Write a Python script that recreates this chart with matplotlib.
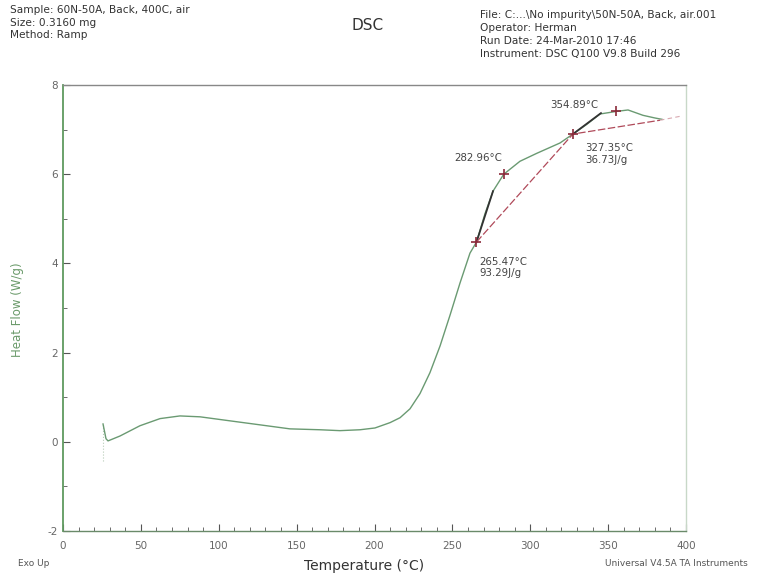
import matplotlib
matplotlib.use("Agg")
import matplotlib.pyplot as plt
import numpy as np

# Main DSC curve (Temperature °C, Heat Flow W/g)
temp = [25.7, 25.7, 27.6, 28.9, 36.6, 49.4, 62.3, 75.1, 88.0, 107.2, 126.5, 145.7,
        165.0, 177.8, 190.7, 200.3, 210.0, 216.4, 222.8, 229.2, 235.6, 242.1, 248.5,
        254.9, 261.3, 265.5, 270.9, 276.1, 283.0, 293.4, 304.3, 319.1, 327.4, 336.4,
        344.8, 355.7, 362.8, 372.4, 380.1, 384.6]
heat = [-0.43, 0.40, 0.07, 0.02, 0.13, 0.36, 0.52, 0.58, 0.56, 0.47, 0.38, 0.29,
        0.27, 0.25, 0.27, 0.31, 0.43, 0.54, 0.74, 1.08, 1.55, 2.15, 2.84,
        3.56, 4.23, 4.48, 5.11, 5.62, 6.00, 6.29, 6.47, 6.70, 6.90, 7.12,
        7.35, 7.41, 7.44, 7.32, 7.26, 7.23]

# Tangent lines (black)
tan1_t = [265.5, 276.1]
tan1_h = [4.48, 5.62]
tan2_t = [327.4, 345.4]
tan2_h = [6.90, 7.37]

# Baselines (red)
base_t = [265.5, 327.4, 383.3]
base_h = [4.48, 6.90, 7.21]
ext_t = [383.3, 398.0]
ext_h = [7.21, 7.31]

# Markers
mark_t = [265.47, 282.96, 327.35, 354.89]
mark_h = [4.48, 6.00, 6.90, 7.41]

xticks = [0, 50, 100, 150, 200, 250, 300, 350, 400]
yticks = [-2, 0, 2, 4, 6, 8]
ytick_labels = ["-2", "0", "2", "4", "6", "8"]

fig = plt.figure(figsize=(7.57, 5.75), dpi=100)
ax = fig.add_axes([63/757, 1-531/575, 623/757, 446/575])

green = "#6a9a72"
ax.plot(temp[:2], heat[:2], color="#b8ccb8", lw=0.8, ls=":")
ax.plot(temp[1:], heat[1:], color=green, lw=1.0)
ax.plot(tan1_t, tan1_h, color="#333333", lw=1.3)
ax.plot(tan2_t, tan2_h, color="#333333", lw=1.3)
ax.plot(base_t, base_h, color="#b04a5a", lw=0.9, ls=(0, (6, 2)))
ax.plot(ext_t, ext_h, color="#d8a8b0", lw=0.8, ls=(0, (4, 3)))
ax.plot(mark_t, mark_h, ls="none", marker="+", ms=7, mew=1.2, color="#8a2a3a")

fs = 7.4
tc = "#444444"
ax.text(282.0, 6.25, "282.96°C", ha="right", va="bottom", fontsize=fs, color=tc)
ax.text(267.5, 4.15, "265.47°C\n93.29J/g", ha="left", va="top", fontsize=fs, color=tc, linespacing=1.2)
ax.text(335.0, 6.70, "327.35°C\n36.73J/g", ha="left", va="top", fontsize=fs, color=tc, linespacing=1.2)
ax.text(313.0, 7.45, "354.89°C", ha="left", va="bottom", fontsize=fs, color=tc)

ax.set_xlim(0, 400)
ax.set_ylim(-2, 8)
ax.set_xticks(xticks)
ax.set_yticks(yticks)
ax.set_yticklabels(ytick_labels)
ax.set_xticks(np.arange(0, 401, 10), minor=True)
ax.set_yticks(np.arange(-2, 8.1, 1), minor=True)
ax.tick_params(axis="both", which="major", direction="in", length=5, labelsize=7.5,
               labelcolor="#666666", color="#555555")
ax.tick_params(axis="x", which="major", pad=7)
ax.tick_params(axis="both", which="minor", direction="in", length=3, color="#555555")

ax.spines["left"].set_color("#5f9a5f")
ax.spines["left"].set_linewidth(1.3)
ax.spines["bottom"].set_color("#6a8a6a")
ax.spines["bottom"].set_linewidth(1.0)
ax.spines["top"].set_color("#888888")
ax.spines["top"].set_linewidth(1.0)
ax.spines["right"].set_color("#c8d8c8")
ax.spines["right"].set_linewidth(1.0)

fig.text(364/757, 1-566/575, "Temperature (°C)", ha="center", va="center", fontsize=10, color="#333333")
fig.text(18/757, 1-310/575, "Heat Flow (W/g)", ha="center", va="center", rotation=90,
         fontsize=8.5, color="#6a9a6a")

hfs = 7.6
hc = "#333333"
fig.text(10/757, 1-5/575, "Sample: 60N-50A, Back, 400C, air\nSize: 0.3160 mg\nMethod: Ramp",
         ha="left", va="top", fontsize=hfs, color=hc, linespacing=1.32)
fig.text(480/757, 1-10/575,
         "File: C:...\\No impurity\\50N-50A, Back, air.001\nOperator: Herman\nRun Date: 24-Mar-2010 17:46\nInstrument: DSC Q100 V9.8 Build 296",
         ha="left", va="top", fontsize=hfs, color=hc, linespacing=1.38)
fig.text(368/757, 1-25/575, "DSC", ha="center", va="center", fontsize=11, color="#333333")
fig.text(18/757, 1-563/575, "Exo Up", ha="left", va="center", fontsize=6.5, color="#555555")
fig.text(748/757, 1-563/575, "Universal V4.5A TA Instruments", ha="right", va="center",
         fontsize=6.5, color="#555555")

fig.savefig("out.png", dpi=100, facecolor="white")
